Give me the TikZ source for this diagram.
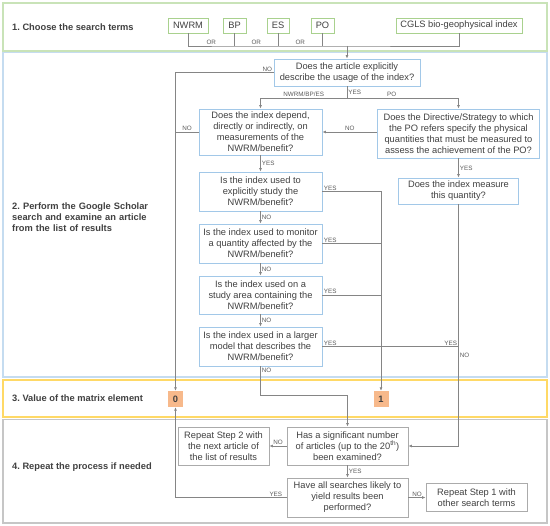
\documentclass[tikz,border=0pt]{standalone}
\usepackage{fontspec}
\setmainfont{Liberation Sans}
\usetikzlibrary{arrows.meta,calc}
\frenchspacing
\definecolor{txt}{HTML}{404040}
\definecolor{labc}{HTML}{595959}
\definecolor{linec}{HTML}{858585}
\definecolor{pgreen}{HTML}{C9E3B8}
\definecolor{bgreen}{HTML}{A9D18E}
\definecolor{pblue}{HTML}{C5DCF0}
\definecolor{bblue}{HTML}{A2C8E8}
\definecolor{pyellow}{HTML}{FFD966}
\definecolor{pgray}{HTML}{C6C6C6}
\definecolor{bgray}{HTML}{ABABAB}
\definecolor{orangef}{HTML}{F7B98B}
\tikzset{
  every node/.style={font=\fontsize{9.3}{11}\selectfont, text=txt},
  panel/.style={line width=1.2pt},
  box/.style={draw, line width=0.9pt, align=center, inner sep=0pt},
  gbox/.style={box, draw=bgreen, minimum height=15pt},
  qbox/.style={box, draw=bblue},
  rbox/.style={box, draw=bgray},
  val/.style={fill=orangef, minimum width=15pt, minimum height=16pt, inner sep=0pt, font=\bfseries\fontsize{9.3}{11}\selectfont},
  plabel/.style={anchor=west, font=\bfseries\fontsize{9.3}{11}\selectfont, inner sep=0pt},
  lab/.style={font=\fontsize{6.3}{7}\selectfont, text=labc, inner sep=1pt},
  conn/.style={draw=linec, line width=0.8pt},
  arr/.style={conn, -{Latex[length=3.5pt,width=3pt]}}
}
\begin{document}
\begin{tikzpicture}[x=1pt,y=-1pt]
\useasboundingbox (0,0) rectangle (550,526);
% panels
\draw[panel, draw=pgreen] (3,3) rectangle (547,51);
\draw[panel, draw=pblue] (3,52.5) rectangle (547,377);
\draw[panel, draw=pyellow] (3,380) rectangle (547,417);
\draw[panel, draw=pgray] (3,419.5) rectangle (547,523);
% panel labels
\node[plabel] (l1) at (12,27) {1. Choose the search terms};
\node[plabel, text width=142pt, align=left] (l2) at (12,217.5)
  {\makebox[142pt][s]{2. Perform the Google Scholar}\\\makebox[142pt][s]{search and examine an article}\\from the list of results};
\node[plabel] (l3) at (12,398.5) {3. Value of the matrix element};
\node[plabel] (l4) at (12,467) {4. Repeat the process if needed};
% step 1 boxes
\node[gbox, minimum width=40pt] (nwrm) at (188,25.5) {NWRM};
\node[gbox, minimum width=23pt] (bp) at (234.5,25.5) {BP};
\node[gbox, minimum width=22pt] (es) at (278,25.5) {ES};
\node[gbox, minimum width=23pt] (po) at (322.5,25.5) {PO};
\node[gbox, minimum width=126pt] (cgls) at (459,25.5) {CGLS bio-geophysical index};
\coordinate (bus) at (347,46);
\draw[conn] (nwrm.south) -- (nwrm.south |- bus) -- node[lab,above]{OR} (bp.south |- bus)
  -- node[lab,above]{OR} (es.south |- bus) -- node[lab,above]{OR} (po.south |- bus) -- (cgls.south |- bus) -- (cgls.south);
\draw[conn] (bp.south) -- (bp.south |- bus);
\draw[conn] (es.south) -- (es.south |- bus);
\draw[conn] (po.south) -- (po.south |- bus);
% step 2 boxes
\node[qbox, minimum width=146pt, minimum height=27pt] (q1) at (347,72.5)
  {Does the article explicitly\\describe the usage of the index?};
\node[qbox, minimum width=123pt, minimum height=46pt] (q2) at (260.5,132)
  {Does the index depend,\\directly or indirectly, on\\measurements of the\\NWRM/benefit?};
\node[qbox, minimum width=162pt, minimum height=49pt] (q3) at (458.5,133.5)
  {Does the Directive/Strategy to which\\the PO refers specify the physical\\quantities that must be measured to\\assess the achievement of the PO?};
\node[qbox, minimum width=123pt, minimum height=39pt] (q4) at (260.5,191.5)
  {Is the index used to\\explicitly study the\\NWRM/benefit?};
\node[qbox, minimum width=123pt, minimum height=39pt] (q5) at (260.5,243.5)
  {Is the index used to monitor\\a quantity affected by the\\NWRM/benefit?};
\node[qbox, minimum width=123pt, minimum height=38pt] (q6) at (260.5,295)
  {Is the index used on a\\study area containing the\\NWRM/benefit?};
\node[qbox, minimum width=123pt, minimum height=39pt] (q7) at (260.5,346.5)
  {Is the index used in a larger\\model that describes the\\NWRM/benefit?};
\node[qbox, minimum width=120pt, minimum height=26pt] (qm) at (458.5,191)
  {Does the index measure\\this quantity?};
% step 3 values
\node[val] (zero) at (175.5,399) {0};
\node[val] (one) at (381,399) {1};
% step 4 boxes
\node[rbox, minimum width=121pt, minimum height=38pt] (sig) at (347.5,446)
  {Has a significant number\\of articles (up to the 20\textsuperscript{th})\\been examined?};
\node[rbox, minimum width=91pt, minimum height=38pt] (rep2) at (223.5,446)
  {Repeat Step 2 with\\the next article of\\the list of results};
\node[rbox, minimum width=121pt, minimum height=39pt] (all) at (347.5,497.5)
  {Have all searches likely to\\yield results been\\performed?};
\node[rbox, minimum width=101pt, minimum height=28pt] (rep1) at (476.5,497.5)
  {Repeat Step 1 with\\other search terms};
% connectors
\draw[arr] (bus) -- (q1.north);
\draw[arr] (q1.west) node[lab, above left]{NO} -| (zero.north);
\coordinate (split) at (347,98);
\draw[conn] (q1.south) -- node[lab,right]{YES} (split);
\draw[arr] (split) -| node[lab,above,pos=0.25]{NWRM/BP/ES} (q2.north);
\draw[arr] (split) -| node[lab,above,pos=0.2]{PO} (q3.north);
\draw[conn] (q2.west) -- node[lab,above]{NO} (q2.west -| zero.north);
\draw[arr] (q3.west |- q2.east) -- node[lab,above]{NO} (q2.east);
\draw[arr] (q2) -- node[lab,right]{YES} (q4);
\draw[arr] (q4) -- node[lab,right]{NO} (q5);
\draw[arr] (q5) -- node[lab,right]{NO} (q6);
\draw[arr] (q6) -- node[lab,right]{NO} (q7);
\draw[arr] (q4.east) node[lab, above right]{YES} -| (one.north);
\draw[conn] (q5.east) node[lab, above right]{YES} -- (q5.east -| one.north);
\draw[conn] (q6.east) node[lab, above right]{YES} -- (q6.east -| one.north);
\draw[conn] (q7.east) node[lab, above right]{YES} -- (q7.east -| qm.south);
\draw[arr] (q3) -- node[lab,right]{YES} (qm);
\coordinate (mj) at (qm.south |- q7.east);
\draw[conn] (qm.south) -- (mj) node[lab, above left]{YES};
\draw[arr] (mj) node[lab, anchor=north west, yshift=-5pt]{NO} |- (sig.east);
\coordinate (nj) at (0,395);
\draw[arr] (q7.south) node[lab, below right]{NO} -- (q7.south |- nj) -| (sig.north);
\draw[arr] (sig.west) -- node[lab,above]{NO} (rep2.east);
\draw[arr] (sig) -- node[lab,right]{YES} (all);
\draw[arr] (all.west) node[lab, above left, xshift=-3pt]{YES} -| (zero.south);
\draw[arr] (all.east) -- node[lab,above]{NO} (all.east -| rep1.west);
\end{tikzpicture}
\end{document}
